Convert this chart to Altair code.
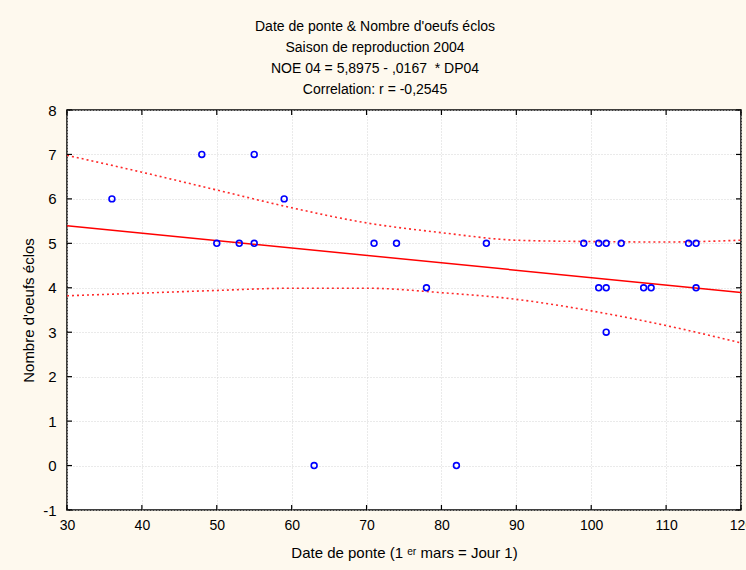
import altair as alt
import pandas as pd

# Observations: laying date (day 1 = 1 March) and number of hatched eggs, season 2004
date_ponte = [36, 48, 50, 53, 55, 55, 59, 63, 71, 74, 78, 82, 86,
              99, 101, 102, 104, 101, 102, 102, 107, 108, 113, 114, 114]
oeufs_eclos = [6, 7, 5, 5, 7, 5, 6, 0, 5, 5, 4, 0, 5,
               5, 5, 5, 5, 4, 4, 3, 4, 4, 5, 5, 4]

# Fitted regression NOE 04 = 5,8975 - ,0167 * DP04
intercept = 5.8975
slope = -0.0167
x_range = [30, 120]

# 95% confidence band of the fit
band_x = [30, 40, 50, 60, 70, 80, 90, 100, 110, 120]
band_upper = [6.98, 6.60, 6.20, 5.80, 5.46, 5.24, 5.07, 5.04, 5.03, 5.07]
band_lower = [3.82, 3.88, 3.94, 3.99, 3.99, 3.89, 3.74, 3.48, 3.15, 2.76]

x_ticks = [30, 40, 50, 60, 70, 80, 90, 100, 110, 120]
y_ticks = [-1, 0, 1, 2, 3, 4, 5, 6, 7, 8]

W, H = 674, 400
FONT = "Liberation Sans"

pts = pd.DataFrame({"x": date_ponte, "y": oeufs_eclos})
fit = pd.DataFrame({"x": x_range, "y": [intercept + slope * v for v in x_range]})
band = pd.DataFrame({
    "x": band_x * 2,
    "y": band_upper + band_lower,
    "side": ["haut"] * len(band_x) + ["bas"] * len(band_x),
})
xt = pd.DataFrame({"v": x_ticks})
yt = pd.DataFrame({"v": y_ticks})

xscale = alt.Scale(domain=[30, 120], nice=False, zero=False)
yscale = alt.Scale(domain=[-1, 8], nice=False, zero=False)

# plain hyphen for negative labels
label_expr = "datum.value < 0 ? '-' + abs(datum.value) : '' + datum.value"

x_axis = alt.Axis(
    values=x_ticks, title="Date de ponte (1 ᵉʳ mars = Jour 1)",
    ticks=False, domain=False, labelPadding=8, titlePadding=13,
    labelFontSize=14, titleFontSize=15, labelFont=FONT, titleFont=FONT,
    labelColor="black", titleColor="black", titleFontWeight="normal",
    grid=True, gridColor="#d4d4d4", gridDash=[1, 2], labelFlush=False,
    labelExpr=label_expr,
)
y_axis = alt.Axis(
    values=y_ticks, title="Nombre d'oeufs éclos",
    ticks=False, domain=False, labelPadding=11, titlePadding=6,
    labelFontSize=15, titleFontSize=15, labelFont=FONT, titleFont=FONT,
    labelColor="black", titleColor="black", titleFontWeight="normal",
    grid=True, gridColor="#d4d4d4", gridDash=[1, 2], labelFlush=False,
    labelExpr=label_expr,
)

points = alt.Chart(pts).mark_point(
    shape="circle", filled=False, color="#0000ff", size=34, strokeWidth=1.6,
    opacity=1,
).encode(
    x=alt.X("x:Q", scale=xscale, axis=x_axis),
    y=alt.Y("y:Q", scale=yscale, axis=y_axis),
)

fit_line = alt.Chart(fit).mark_line(color="#ff0000", strokeWidth=1.5).encode(
    x=alt.X("x:Q", scale=xscale), y=alt.Y("y:Q", scale=yscale)
)

band_lines = alt.Chart(band).mark_line(
    color="#ff2a2a", strokeWidth=1.6, strokeDash=[2, 3], interpolate="monotone"
).encode(
    x=alt.X("x:Q", scale=xscale), y=alt.Y("y:Q", scale=yscale), detail="side:N"
)

# Inward tick marks on all four sides of the frame
tick_style = dict(color="black", strokeWidth=1.2)
t_bottom = alt.Chart(xt).mark_rule(**tick_style).encode(
    x=alt.X("v:Q", scale=xscale), y=alt.value(H), y2=alt.value(H - 5))
t_top = alt.Chart(xt).mark_rule(**tick_style).encode(
    x=alt.X("v:Q", scale=xscale), y=alt.value(0), y2=alt.value(5))
t_left = alt.Chart(yt).mark_rule(**tick_style).encode(
    y=alt.Y("v:Q", scale=yscale), x=alt.value(0), x2=alt.value(5))
t_right = alt.Chart(yt).mark_rule(**tick_style).encode(
    y=alt.Y("v:Q", scale=yscale), x=alt.value(W), x2=alt.value(W - 5))

chart = alt.layer(
    band_lines, fit_line, points, t_bottom, t_top, t_left, t_right
).properties(
    width=W, height=H,
    title=alt.TitleParams(
        text=[
            "Date de ponte & Nombre d'oeufs éclos",
            "Saison de reproduction 2004",
            "NOE 04 = 5,8975 - ,0167 \u00a0* DP04",
            "Correlation: r = -0,2545",
        ],
        fontSize=14, font=FONT, fontWeight="normal", color="black",
        lineHeight=21, anchor="middle", frame="group", dx=-29, offset=6,
    ),
    autosize=alt.AutoSizeParams(type="none"),
    padding={"left": 67, "top": 110, "right": 5, "bottom": 60},
).configure(
    background="#fef9ee",
).configure_view(
    fill="white", stroke="black", strokeWidth=1.5,
)

chart.save("out.html", embed_options={"renderer": "svg", "actions": False})
